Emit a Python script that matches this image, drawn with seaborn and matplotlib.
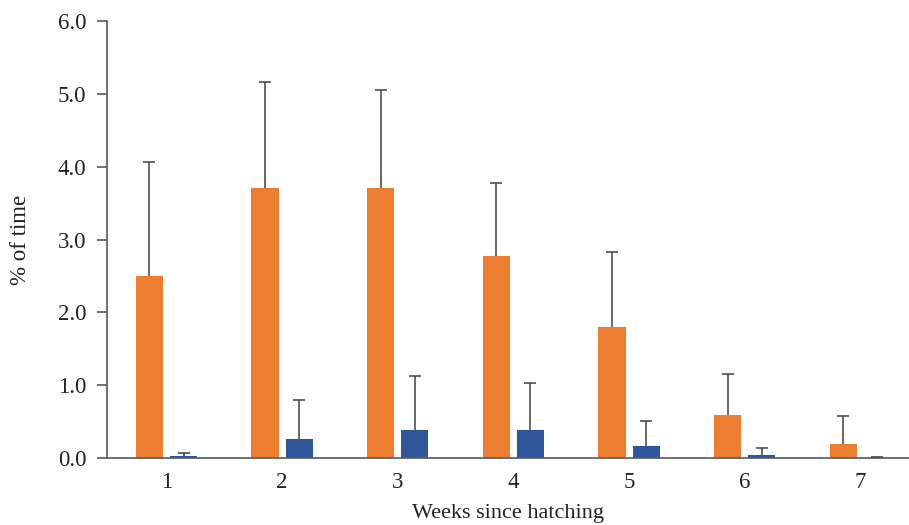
import matplotlib
matplotlib.use("Agg")
import matplotlib.pyplot as plt
import seaborn as sns
import pandas as pd
import numpy as np

weeks = ["1", "2", "3", "4", "5", "6", "7"]
series_names = ["A", "B"]
orange_vals = [2.50, 3.71, 3.71, 2.78, 1.80, 0.59, 0.19]
orange_tops = [4.06, 5.16, 5.05, 3.78, 2.83, 1.16, 0.57]
blue_vals = [0.03, 0.26, 0.39, 0.38, 0.16, 0.04, 0.005]
blue_tops = [0.07, 0.79, 1.13, 1.03, 0.51, 0.14, 0.02]
y_ticks = [0.0, 1.0, 2.0, 3.0, 4.0, 5.0, 6.0]

sns.set_theme(style="white")
plt.rcParams['font.family'] = ['Liberation Serif', 'DejaVu Serif']

df = pd.DataFrame({
    "week": weeks * 2,
    "series": [series_names[0]] * len(weeks) + [series_names[1]] * len(weeks),
    "value": orange_vals + blue_vals,
})

fig = plt.figure(figsize=(9.09, 5.25), dpi=100)
ax = fig.add_axes([107/909, 1 - 458/525, 1 - 107/909, (458 - 21)/525])

palette = {"A": "#ED7D31", "B": "#2E5597"}
sns.barplot(data=df, x="week", y="value", hue="series", palette=palette,
            width=0.59, gap=0.2, errorbar=None, saturation=1, ax=ax,
            legend=False, linewidth=0)

for cont, vals, tops in zip(ax.containers, [orange_vals, blue_vals], [orange_tops, blue_tops]):
    xs = [p.get_x() + p.get_width() / 2 for p in cont.patches]
    v = np.array(vals)
    up = np.array(tops) - v
    _, caps, _ = ax.errorbar(xs, v, yerr=[np.zeros_like(v), up], fmt='none',
                             ecolor='#404040', elinewidth=1.1, capsize=4,
                             capthick=1.1, zorder=3)
    if len(caps) == 2:
        caps[0].set_visible(False)

ax.set_xlim(-0.514, 6.42)
ax.set_ylim(0, 6.0)
ax.set_yticks(y_ticks)
ax.set_yticklabels([f"{t:.1f}" for t in y_ticks])

for s in ["top", "right"]:
    ax.spines[s].set_visible(False)
for s in ["left", "bottom"]:
    ax.spines[s].set_color("#595959")
    ax.spines[s].set_linewidth(1.2)

ax.tick_params(axis='y', which='major', left=True, length=7, width=1.2,
               color="#595959", labelsize=16.5, labelcolor="#222222", pad=8)
ax.tick_params(axis='x', bottom=False, labelsize=16.5, labelcolor="#222222", pad=4)

ax.set_xlabel("Weeks since hatching", fontsize=16, color="#222222", labelpad=8)
ax.set_ylabel("% of time", fontsize=16.5, color="#222222", labelpad=19)

fig.savefig("out.png", dpi=100)
